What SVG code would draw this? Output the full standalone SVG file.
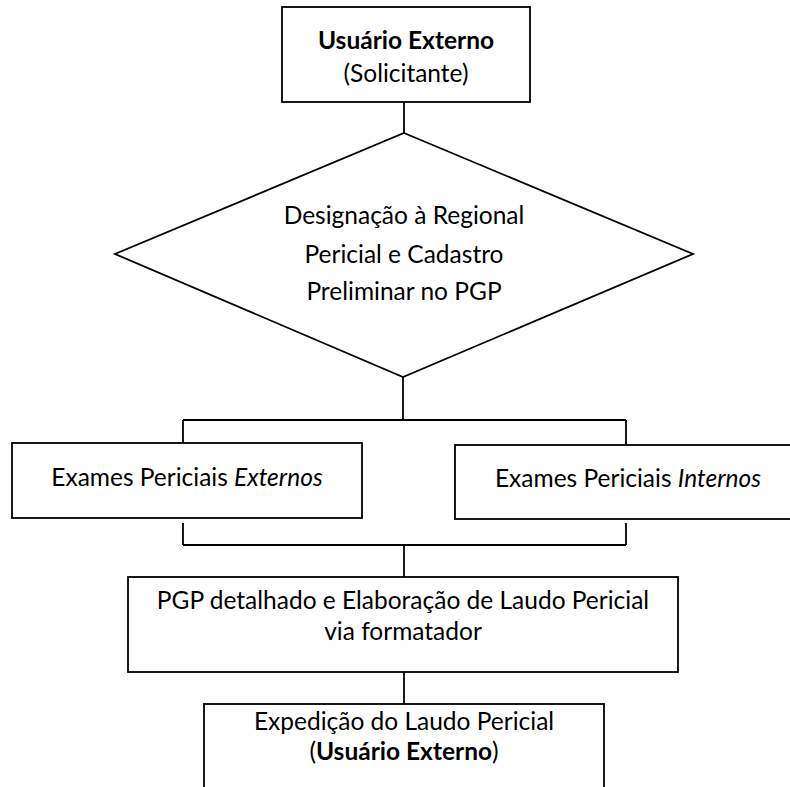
<svg xmlns="http://www.w3.org/2000/svg" width="790" height="787" viewBox="0 0 790 787">
<style>
  .box { fill: #ffffff; stroke: #000000; stroke-width: 1.8; }
  .ln { fill: none; stroke: #000000; stroke-width: 1.8; }
  text { font-family: Lato, "Liberation Sans", sans-serif; font-size: 24.5px; fill: #000000; text-anchor: middle; }
  .b { font-weight: bold; }
  .i { font-style: italic; }
</style>
<rect width="790" height="787" fill="#ffffff"/>
<g id="connectors">
  <line class="ln" x1="404" y1="102" x2="404" y2="133"/>
  <line class="ln" x1="403" y1="377" x2="403" y2="420"/>
  <line class="ln" x1="183" y1="420" x2="626" y2="420"/>
  <line class="ln" x1="183" y1="420" x2="183" y2="443"/>
  <line class="ln" x1="626" y1="420" x2="626" y2="445"/>
  <line class="ln" x1="183" y1="523" x2="183" y2="545"/>
  <line class="ln" x1="626" y1="523" x2="626" y2="545"/>
  <line class="ln" x1="183" y1="545" x2="626" y2="545"/>
  <line class="ln" x1="404" y1="545" x2="404" y2="577"/>
  <line class="ln" x1="404" y1="672" x2="404" y2="704"/>
</g>
<g id="usuario">
  <rect class="box" x="282" y="7" width="248" height="95"/>
  <text x="406" y="49"><tspan class="b">Usuário Externo</tspan></text>
  <text x="406" y="82">(Solicitante)</text>
</g>
<g id="designacao">
  <polygon class="box" points="404,133 693,254 403,377 115,254"/>
  <text x="404" y="224">Designação à Regional</text>
  <text x="404" y="263">Pericial e Cadastro</text>
  <text x="404" y="300">Preliminar no PGP</text>
</g>
<g id="externos">
  <rect class="box" x="12" y="443" width="350" height="75"/>
  <text x="187" y="486">Exames Periciais <tspan class="i">Externos</tspan></text>
</g>
<g id="internos">
  <rect class="box" x="455" y="445" width="345" height="74"/>
  <text x="628" y="487">Exames Periciais <tspan class="i">Internos</tspan></text>
</g>
<g id="pgp">
  <rect class="box" x="128" y="577" width="550" height="95"/>
  <text x="403" y="609">PGP detalhado e Elaboração de Laudo Pericial</text>
  <text x="403" y="640">via formatador</text>
</g>
<g id="expedicao">
  <rect class="box" x="204" y="704" width="400" height="95"/>
  <text x="404" y="730">Expedição do Laudo Pericial</text>
  <text x="404" y="760">(<tspan class="b">Usuário Externo</tspan>)</text>
</g>
</svg>
